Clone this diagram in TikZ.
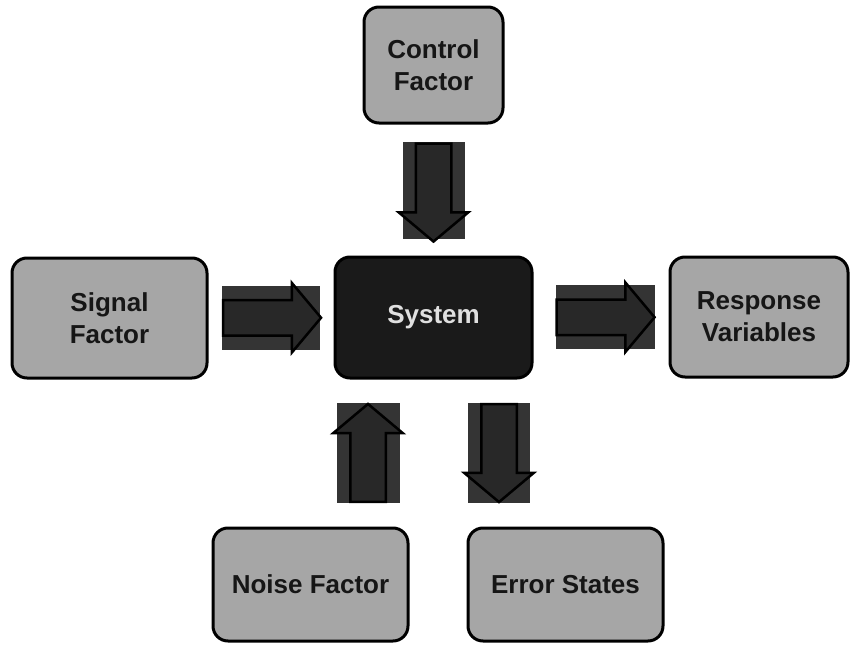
\documentclass[tikz,border=0pt]{standalone}
\usepackage{fontspec}
\setmainfont{Liberation Sans}
\usepackage{xcolor}
\usetikzlibrary{shapes.arrows, calc}
\definecolor{boxGray}{RGB}{166,166,166}
\definecolor{panelBlack}{RGB}{26,26,26}
\definecolor{padDark}{RGB}{52,52,52}
\definecolor{arrowDark}{RGB}{40,40,40}
\definecolor{labelText}{RGB}{22,22,22}
\tikzset{
    factorbox/.style={
        rectangle,
        draw=black,
        line width=3pt,
        rounded corners=15pt,
        fill=boxGray,
        align=center,
        inner sep=0pt,
        text=labelText,
        font=\fontsize{26}{32}\selectfont\bfseries
    },
    systembox/.style={
        factorbox,
        fill=panelBlack,
        text=white!88!black
    },
    arrowpad/.style={rectangle, fill=padDark, inner sep=0pt},
    blockarrow/.style={
        single arrow,
        draw=black,
        line width=2.5pt,
        fill=arrowDark,
        inner sep=16.5pt,
        minimum height=98pt,
        single arrow head extend=17pt,
        single arrow tip angle=100,
        anchor=tail
    }
}
\begin{document}
\begin{tikzpicture}[x=1pt,y=-1pt]
        \useasboundingbox (0,0) rectangle (855,645);
        \node[factorbox, minimum width=139pt, minimum height=116pt] (control) at (433.5,65) {Control\\Factor};
        \node[factorbox, minimum width=195pt, minimum height=120pt] (signal) at (109.5,318) {Signal\\Factor};
        \node[systembox, minimum width=197pt, minimum height=121pt] (system) at (433.5,317.5) {System};
        \node[factorbox, minimum width=178pt, minimum height=120pt] (response) at (759,317) {Response\\Variables};
        \node[factorbox, minimum width=195pt, minimum height=113pt] (noise) at (310.5,584.5) {Noise Factor};
        \node[factorbox, minimum width=195pt, minimum height=113pt] (error) at (565.5,584.5) {Error States};

        % dark pads sit halfway between the boxes
        \coordinate (ctrlmid) at ($(control.south)!0.5!(system.north)$);
        \coordinate (signalmid) at ($(signal.east)!0.5!(system.west)$);
        \coordinate (respmid) at ($(system.east)!0.5!(response.west)+(4,0)$);
        \coordinate (noisemid) at ($(system.south)!0.5!(system.south |- noise.north)+(-65.5,0)$);
        \coordinate (errormid) at ($(system.south)!0.5!(system.south |- error.north)+(65.5,0)$);

        \node[arrowpad, minimum width=62pt, minimum height=97pt] (ctrlpad) at (ctrlmid) {};
        \node[arrowpad, minimum width=98pt, minimum height=64pt] (signalpad) at (signalmid) {};
        \node[arrowpad, minimum width=99pt, minimum height=64pt] (resppad) at (respmid) {};
        \node[arrowpad, minimum width=63pt, minimum height=100pt] (noisepad) at (noisemid) {};
        \node[arrowpad, minimum width=62pt, minimum height=100pt] (errorpad) at (errormid) {};

        % block arrows start at the tail edge of their pad
        \node[blockarrow, shape border rotate=270] (ctrlarrow) at ($(ctrlpad.north)+(0,1)$) {};
        \node[blockarrow] (signalarrow) at (signalpad.west) {};
        \node[blockarrow] (resparrow) at (resppad.west) {};
        \node[blockarrow, shape border rotate=90] (noisearrow) at (noisepad.south) {};
        \node[blockarrow, shape border rotate=270] (errorarrow) at (errorpad.north) {};
    \end{tikzpicture}
\end{document}
